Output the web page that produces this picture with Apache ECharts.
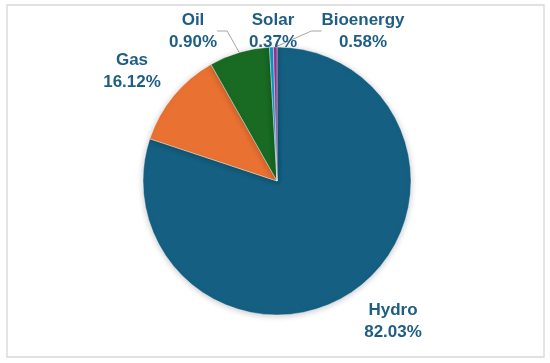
<!DOCTYPE html>
<html>
<head>
<meta charset="utf-8">
<script src="https://cdn.jsdelivr.net/npm/echarts@6/dist/echarts.min.js"></script>
<style>html,body{margin:0;padding:0;background:#fff}#c{width:550px;height:363px}</style>
</head>
<body>
<div id="c"></div>
<script>
// Categories in drawing order (clockwise from 12 o'clock)
const categories = ['Hydro', 'Gas', 'Oil', 'Solar', 'Bioenergy'];
// Slice shares as drawn in the picture (percent of the circle)
const sliceShares = [80.1, 11.7, 7.3, 0.47, 0.43];
// Percent labels printed on the chart
const labelPercents = ['82.03%', '16.12%', '0.90%', '0.37%', '0.58%'];

const colors = ['#156082', '#E97132', '#196B24', '#0F9ED5', '#A02B93'];
const showLine = [false, false, true, false, true];
// label block centres (layout only)
const labelPos = [[393, 321], [132, 71], [193, 31], [273, 31], [363, 31]];

const chart = echarts.init(document.getElementById('c'), null, {renderer: 'canvas'});
chart.setOption({
  backgroundColor: '#ffffff',
  animation: false,
  graphic: [{
    type: 'rect', shape: {x: 7, y: 5, width: 537, height: 352},
    style: {fill: 'none', stroke: '#d6d6d6', lineWidth: 1.3}, silent: true, z: -1
  }],
  series: [{
    type: 'pie',
    center: [277, 181],
    radius: [0, 134],
    startAngle: 90,
    clockwise: true,
    avoidLabelOverlap: false,
    itemStyle: {borderColor: '#ffffff', borderWidth: 0.4, shadowBlur: 6, shadowColor: 'rgba(0,0,0,0.22)', shadowOffsetY: 1},
    label: {
      show: true,
      position: 'outside',
      color: '#1F5E84',
      fontFamily: 'Liberation Sans, Arial, sans-serif',
      fontWeight: 'bold',
      fontSize: 17,
      lineHeight: 22,
      align: 'center',
      formatter: p => p.name + '\n' + labelPercents[p.dataIndex]
    },
    labelLine: {show: true, length: 4, length2: 10, lineStyle: {color: '#a6a6a6', width: 1}},
    labelLayout: p => ({
      x: labelPos[p.dataIndex][0],
      y: labelPos[p.dataIndex][1],
      align: 'center',
      verticalAlign: 'middle'
    }),
    data: categories.map((c, i) => ({
      name: c,
      value: sliceShares[i],
      itemStyle: {color: colors[i]},
      labelLine: {show: showLine[i]}
    }))
  }]
});
</script>
</body>
</html>
